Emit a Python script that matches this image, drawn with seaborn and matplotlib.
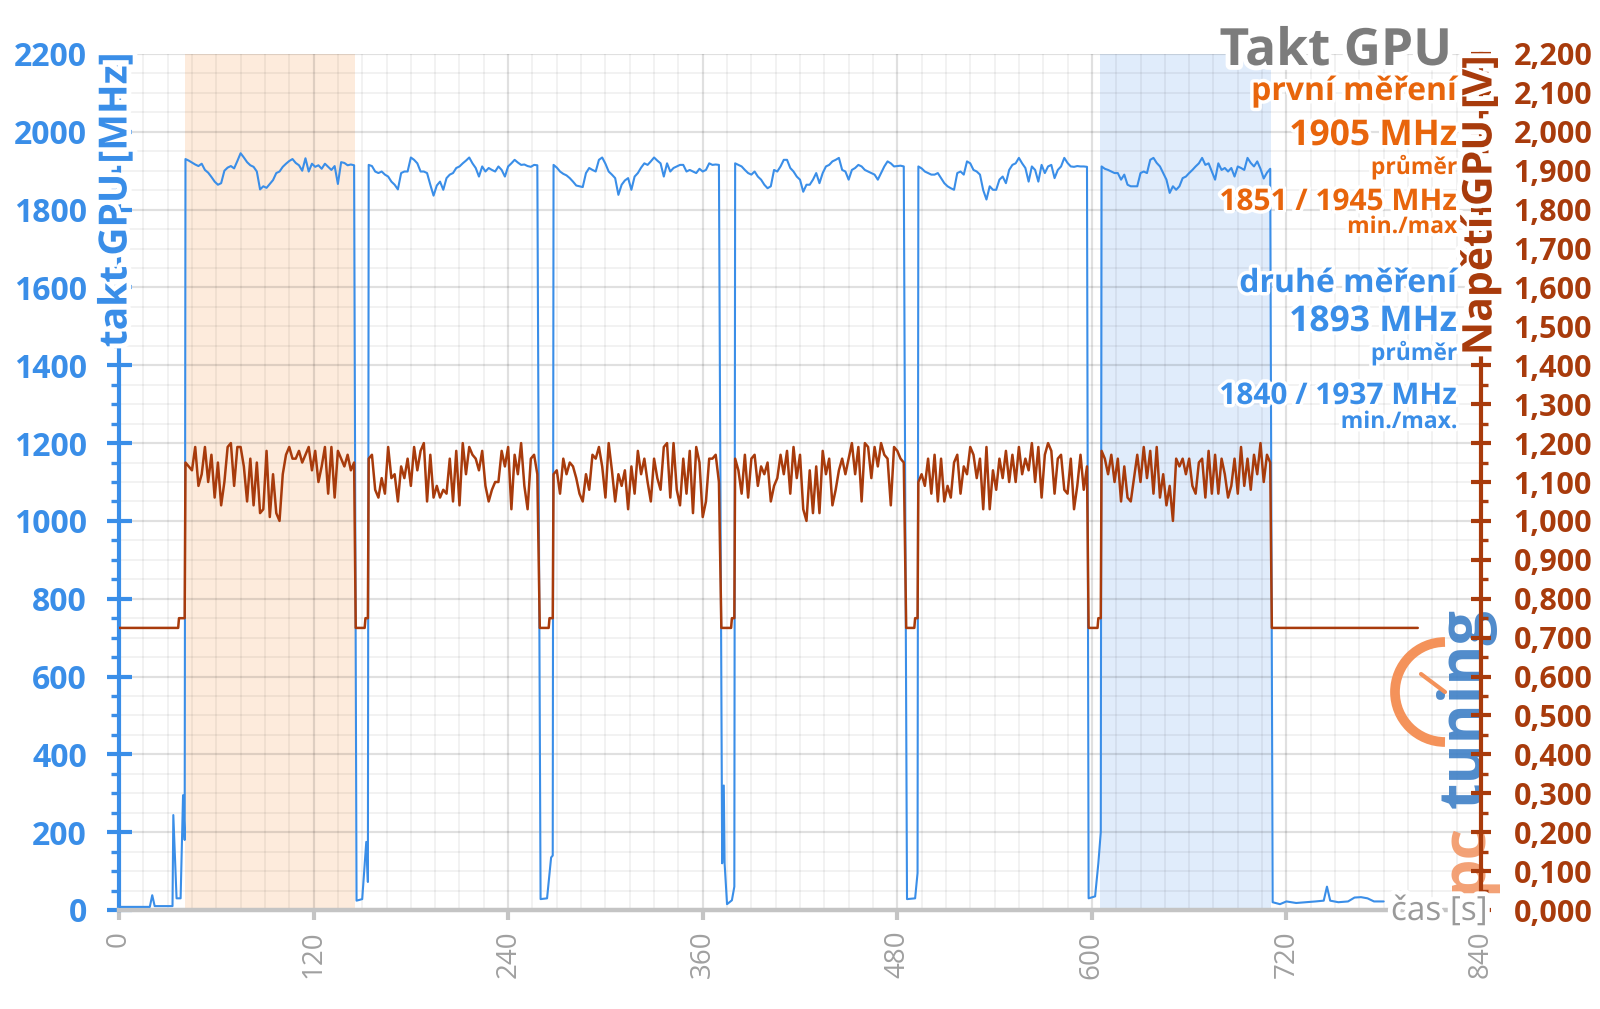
import numpy as np
import pandas as pd
import matplotlib
matplotlib.use("Agg")
import matplotlib.pyplot as plt
import seaborn as sns
from matplotlib.ticker import MultipleLocator, FuncFormatter, FixedLocator
from matplotlib import patheffects as pe
from matplotlib.patches import Arc
from matplotlib.lines import Line2D

# ---------------- data ----------------
load_starts = [41, 154, 268, 380, 493, 606]   # s, start of each load segment
sample_step = 2                                # s between samples in load segments

clock_load1 = [1930, 1926, 1921, 1916, 1912, 1918, 1902, 1895, 1884, 1872, 1864, 1868, 1900, 1908, 1912, 1906, 1925,
               1945, 1934, 1922, 1914, 1910, 1898, 1852, 1860, 1856, 1866, 1876, 1894, 1898, 1910, 1918, 1925, 1930,
               1920, 1914, 1900, 1932, 1898, 1918, 1910, 1914, 1905, 1918, 1910, 1902, 1912, 1866, 1922, 1920, 1914,
               1916, 1914]
clock_load2 = [1915, 1912, 1898, 1894, 1898, 1890, 1885, 1872, 1864, 1852, 1894, 1898, 1898, 1934, 1928, 1919, 1898,
               1898, 1894, 1864, 1836, 1862, 1872, 1851, 1881, 1890, 1894, 1907, 1911, 1919, 1926, 1934, 1919, 1907,
               1885, 1911, 1898, 1907, 1902, 1898, 1911, 1902, 1885, 1911, 1919, 1928, 1921, 1915, 1916, 1912, 1910,
               1915, 1914]
clock_load3 = [1915, 1908, 1898, 1892, 1888, 1881, 1872, 1862, 1860, 1858, 1894, 1907, 1902, 1898, 1928, 1934, 1918,
               1898, 1890, 1881, 1838, 1864, 1875, 1881, 1851, 1885, 1894, 1908, 1919, 1915, 1924, 1934, 1926, 1919,
               1885, 1919, 1898, 1907, 1911, 1915, 1915, 1898, 1902, 1898, 1894, 1905, 1898, 1902, 1919, 1915, 1916,
               1915]
clock_load4 = [1919, 1915, 1911, 1902, 1894, 1890, 1898, 1885, 1877, 1864, 1855, 1860, 1902, 1898, 1911, 1928, 1928,
               1907, 1898, 1885, 1877, 1846, 1864, 1864, 1877, 1894, 1868, 1894, 1911, 1915, 1924, 1928, 1933, 1902,
               1898, 1877, 1902, 1907, 1915, 1911, 1902, 1898, 1894, 1890, 1877, 1894, 1911, 1924, 1919, 1911, 1912,
               1913, 1911]
clock_load5 = [1911, 1906, 1898, 1894, 1890, 1890, 1894, 1881, 1868, 1860, 1855, 1851, 1894, 1898, 1890, 1924, 1919,
               1902, 1898, 1890, 1850, 1826, 1860, 1851, 1851, 1877, 1885, 1868, 1902, 1915, 1919, 1933, 1919, 1907,
               1872, 1911, 1902, 1872, 1915, 1894, 1911, 1915, 1881, 1902, 1911, 1933, 1920, 1911, 1910, 1912, 1911,
               1911, 1910]
clock_load6 = [1911, 1905, 1902, 1898, 1894, 1894, 1877, 1890, 1864, 1860, 1860, 1860, 1894, 1898, 1894, 1928, 1933,
               1920, 1911, 1894, 1877, 1843, 1860, 1851, 1860, 1881, 1885, 1894, 1902, 1911, 1919, 1933, 1915, 1919,
               1898, 1877, 1919, 1902, 1907, 1898, 1907, 1885, 1911, 1907, 1902, 1933, 1920, 1911, 1924, 1905, 1880,
               1895, 1905]

volt_load1 = [1.15, 1.14, 1.13, 1.19, 1.09, 1.12, 1.19, 1.10, 1.17, 1.06, 1.15, 1.04, 1.10, 1.19, 1.20, 1.09, 1.19,
              1.19, 1.14, 1.05, 1.16, 1.04, 1.15, 1.02, 1.03, 1.18, 1.01, 1.12, 1.02, 1.00, 1.12, 1.17, 1.19, 1.16,
              1.16, 1.18, 1.15, 1.17, 1.19, 1.13, 1.18, 1.10, 1.14, 1.19, 1.07, 1.19, 1.06, 1.18, 1.16, 1.14, 1.17,
              1.13, 1.15]
volt_load2 = [1.16, 1.17, 1.08, 1.06, 1.11, 1.07, 1.19, 1.11, 1.12, 1.05, 1.14, 1.11, 1.16, 1.09, 1.19, 1.13, 1.18,
              1.20, 1.05, 1.17, 1.06, 1.09, 1.06, 1.08, 1.07, 1.16, 1.05, 1.18, 1.04, 1.20, 1.12, 1.19, 1.17, 1.16,
              1.13, 1.18, 1.09, 1.05, 1.08, 1.10, 1.10, 1.18, 1.14, 1.19, 1.03, 1.17, 1.12, 1.20, 1.09, 1.03, 1.16,
              1.17, 1.12]
volt_load3 = [1.12, 1.13, 1.07, 1.16, 1.12, 1.15, 1.14, 1.11, 1.07, 1.05, 1.12, 1.08, 1.17, 1.16, 1.19, 1.14, 1.06,
              1.20, 1.13, 1.05, 1.12, 1.09, 1.13, 1.03, 1.14, 1.07, 1.18, 1.12, 1.16, 1.10, 1.05, 1.16, 1.11, 1.08,
              1.19, 1.20, 1.06, 1.20, 1.08, 1.04, 1.16, 1.07, 1.18, 1.02, 1.19, 1.15, 1.01, 1.05, 1.16, 1.16, 1.17,
              1.10]
volt_load4 = [1.16, 1.13, 1.07, 1.17, 1.06, 1.16, 1.17, 1.09, 1.14, 1.12, 1.15, 1.05, 1.09, 1.11, 1.17, 1.12, 1.18,
              1.07, 1.19, 1.11, 1.17, 1.03, 1.00, 1.13, 1.02, 1.14, 1.02, 1.18, 1.12, 1.16, 1.04, 1.08, 1.13, 1.16,
              1.12, 1.16, 1.20, 1.12, 1.19, 1.05, 1.20, 1.19, 1.11, 1.19, 1.14, 1.20, 1.17, 1.16, 1.04, 1.19, 1.18,
              1.16, 1.15]
volt_load5 = [1.10, 1.12, 1.09, 1.16, 1.07, 1.17, 1.05, 1.16, 1.05, 1.09, 1.06, 1.15, 1.17, 1.07, 1.14, 1.12, 1.19,
              1.17, 1.11, 1.16, 1.03, 1.19, 1.03, 1.13, 1.08, 1.16, 1.11, 1.18, 1.10, 1.17, 1.10, 1.19, 1.12, 1.16,
              1.13, 1.20, 1.10, 1.19, 1.06, 1.17, 1.20, 1.18, 1.07, 1.16, 1.17, 1.08, 1.07, 1.16, 1.03, 1.09, 1.17,
              1.08, 1.14]
volt_load6 = [1.18, 1.16, 1.12, 1.17, 1.10, 1.16, 1.05, 1.14, 1.06, 1.05, 1.11, 1.17, 1.10, 1.19, 1.11, 1.18, 1.07,
              1.19, 1.06, 1.12, 1.04, 1.09, 1.00, 1.16, 1.14, 1.16, 1.12, 1.16, 1.09, 1.07, 1.15, 1.16, 1.06, 1.18,
              1.07, 1.17, 1.07, 1.16, 1.12, 1.06, 1.09, 1.16, 1.07, 1.19, 1.09, 1.16, 1.08, 1.17, 1.12, 1.20, 1.10,
              1.17, 1.15]

# idle / transition parts (time in s, value)
clock_pre_t = [0, 19, 20.5, 22, 33, 33.5, 35.5, 38, 39.5, 40.5]
clock_pre_v = [8, 8, 38, 10, 10, 244, 30, 30, 295, 180]
clock_gap_t = [[146.5, 150, 152.5, 153.5],
               [260, 264, 266.5, 267.5],
               [372, 373, 373.5, 375, 378, 379.5],
               [486, 491, 492.5],
               [598, 602, 604, 605.5]]
clock_gap_v = [[24, 28, 175, 72],
               [28, 30, 135, 140],
               [120, 320, 120, 15, 25, 60],
               [28, 30, 95],
               [30, 35, 120, 200]]
clock_end_t = [711.5, 716, 720, 726, 732, 738, 743, 745, 747, 752, 758, 762, 766, 770, 774, 780]
clock_end_v = [20, 15, 22, 18, 20, 22, 24, 60, 24, 20, 22, 32, 33, 30, 22, 22]

volt_pre_t = [0, 36.5, 37, 40.5]
volt_pre_v = [0.725, 0.725, 0.75, 0.75]
volt_gap_t = [[146, 151.5, 152, 153.5],
              [259.5, 265, 265.5, 267.5],
              [371.5, 377.5, 378, 379.5],
              [485.5, 490.5, 491, 492.5],
              [598, 603.5, 604, 605.5]]
volt_gap_v = [0.725, 0.725, 0.75, 0.75]
volt_end_t = [711, 801]
volt_end_v = [0.725, 0.725]

shade_first = (40.5, 145.5)
shade_second = (605, 710.5)

x_ticks = [0, 120, 240, 360, 480, 600, 720, 840]

title = "Takt GPU"
info_lines = [  # text, colour key, size key
    ("první měření", "o", "name"), ("1905 MHz", "o", "big"), ("průměr", "o", "small"),
    ("1851 / 1945 MHz", "o", "mid"), ("min./max", "o", "small"),
    ("druhé měření", "b", "name"), ("1893 MHz", "b", "big"), ("průměr", "b", "small"),
    ("1840 / 1937 MHz", "b", "mid"), ("min./max.", "b", "small"),
]

# ---------------- assemble series ----------------
clock_loads = [clock_load1, clock_load2, clock_load3, clock_load4, clock_load5, clock_load6]
volt_loads = [volt_load1, volt_load2, volt_load3, volt_load4, volt_load5, volt_load6]

ct, cv = list(clock_pre_t), list(clock_pre_v)
vt, vv = list(volt_pre_t), list(volt_pre_v)
for i in range(6):
    ct += list(load_starts[i] + sample_step * np.arange(len(clock_loads[i])))
    cv += clock_loads[i]
    vt += list(load_starts[i] + sample_step * np.arange(len(volt_loads[i])))
    vv += volt_loads[i]
    if i < 5:
        ct += clock_gap_t[i]
        cv += clock_gap_v[i]
        vt += volt_gap_t[i]
        vv += volt_gap_v
ct += clock_end_t
cv += clock_end_v
vt += volt_end_t
vv += volt_end_v

df_clock = pd.DataFrame({"t": ct, "MHz": cv})
df_volt = pd.DataFrame({"t": vt, "V": vv})

# ---------------- style ----------------
sns.set_theme(style="white")
plt.rcParams["font.family"] = ["Open Sans", "DejaVu Sans"]

BLUE = "#3a8ee8"
ORANGE = "#e8650c"
BROWN = "#a83b0c"
GRAY_T = "#7c7c7c"
XGRAY = "#a0a0a0"

W, H = 1600, 1009
fig = plt.figure(figsize=(16, 10.09), dpi=100)
fig.patch.set_facecolor("white")
ax = fig.add_axes([119 / W, 1 - 910 / H, (1481 - 119) / W, (910 - 54) / H])
ax2 = ax.twinx()

ax.axvspan(*shade_first, color="#fdebdc", zorder=0.2, lw=0)
ax.axvspan(*shade_second, color="#e0ecfb", zorder=0.2, lw=0)

sns.lineplot(data=df_clock, x="t", y="MHz", ax=ax, color=BLUE, lw=1.5, estimator=None, sort=False, zorder=3)
sns.lineplot(data=df_volt, x="t", y="V", ax=ax2, color=BROWN, lw=1.8, estimator=None, sort=False, zorder=3)

ax.set_xlim(0, 840)
ax.set_ylim(0, 2200)
ax2.set_ylim(0, 2.2)
ax.set_xlabel("")
ax.set_ylabel("")
ax2.set_ylabel("")

ax.set_axisbelow(True)
ax.xaxis.set_major_locator(FixedLocator(x_ticks))
ax.xaxis.set_minor_locator(MultipleLocator(15))
ax.yaxis.set_major_locator(MultipleLocator(200))
ax.yaxis.set_minor_locator(MultipleLocator(50))
ax2.yaxis.set_major_locator(MultipleLocator(0.1))
ax2.yaxis.set_minor_locator(MultipleLocator(0.05))
ax2.yaxis.set_major_formatter(FuncFormatter(lambda v, p: f"{v:.3f}".replace(".", ",")))
ax.yaxis.set_major_formatter(FuncFormatter(lambda v, p: f"{v:.0f}"))

ax.grid(which="major", color="#000000", alpha=0.12, lw=1.6)
ax.grid(which="minor", color="#000000", alpha=0.055, lw=1.3)
ax2.grid(False)

for s in ["top", "right"]:
    ax.spines[s].set_visible(False)
for s in ["top", "left", "bottom"]:
    ax2.spines[s].set_visible(False)
ax.spines["left"].set_color(BLUE)
ax.spines["left"].set_linewidth(3)
ax.spines["bottom"].set_color("#c4c4c4")
ax.spines["bottom"].set_linewidth(3.2)
ax2.spines["right"].set_color(BROWN)
ax2.spines["right"].set_linewidth(3)

ax.tick_params(axis="y", which="major", direction="inout", length=18, width=3, color=BLUE,
               labelcolor=BLUE, labelsize=23, pad=14, left=True)
ax.tick_params(axis="y", which="minor", direction="out", length=6, width=2.4, color=BLUE, left=True)
ax.tick_params(axis="x", which="major", direction="out", length=7, width=3, color="#c4c4c4",
               labelcolor=XGRAY, labelsize=20, pad=8, bottom=True, labelrotation=90)
ax.tick_params(axis="x", which="minor", bottom=False)
ax2.tick_params(axis="y", which="major", direction="inout", length=15, width=3, color=BROWN,
                labelcolor=BROWN, labelsize=22, pad=16, right=True)
ax2.tick_params(axis="y", which="minor", direction="out", length=5, width=2.4, color=BROWN, right=True)
for lbl in ax.get_yticklabels():
    lbl.set_fontweight("bold")
for lbl in ax2.get_yticklabels():
    lbl.set_fontweight("bold")

halo = [pe.withStroke(linewidth=7, foreground="white")]

# axis titles
fig.text(116 / W, 1 - 200 / H, "takt GPU [MHz]", rotation=90, ha="center", va="center",
         color=BLUE, fontsize=28, fontweight="bold", path_effects=halo)
fig.text(1481 / W, 1 - 205 / H, "Napětí GPU [V]", rotation=90, ha="center", va="center",
         color=BROWN, fontsize=29.5, fontweight="bold", path_effects=halo)

# pctuning logo (decoration), below the right axis
ax.text(1466 / W, 1 - 708 / H, "tuning", transform=fig.transFigure, rotation=90, ha="center",
        va="center", color="#3d7fc6", fontsize=44, fontweight="bold", alpha=0.9, zorder=4, clip_on=False)
ax.text(1466 / W, 1 - 858 / H, "pc", transform=fig.transFigure, rotation=90, ha="center",
        va="center", color="#f29766", fontsize=44, fontweight="bold", alpha=0.9, zorder=4, clip_on=False)
arc = Arc((1445 / W, 1 - 692 / H), 100 / W, 100 / H, theta1=90, theta2=270, color="#f4925a",
          lw=7, transform=fig.transFigure, zorder=4, clip_on=False)
ax.add_patch(arc)
ax.add_line(Line2D([1445 / W, 1421 / W], [1 - 692 / H, 1 - 674 / H], color="#f4925a", lw=3,
                   transform=fig.transFigure, zorder=4, clip_on=False))

fig.text(1488 / W, 1 - 920 / H, "čas [s]", ha="right", va="baseline", color="#9a9a9a",
         fontsize=24, path_effects=halo)

# title + info block
fig.text(1452 / W, 1 - 65 / H, title, ha="right", va="baseline", color=GRAY_T,
         fontsize=37, fontweight="bold", path_effects=halo)
baselines = [100, 145, 174, 210, 233, 292, 331, 360, 404, 428]
sizes = {"name": 23, "big": 25.5, "small": 16.5, "mid": 21.5}
colors = {"o": ORANGE, "b": BLUE}
for (txt, ck, sk), yb in zip(info_lines, baselines):
    fig.text(1457 / W, 1 - yb / H, txt, ha="right", va="baseline", color=colors[ck],
             fontsize=sizes[sk], fontweight="bold",
             path_effects=[pe.withStroke(linewidth=5, foreground="white")])

fig.savefig("out.png", dpi=100, facecolor="white")
